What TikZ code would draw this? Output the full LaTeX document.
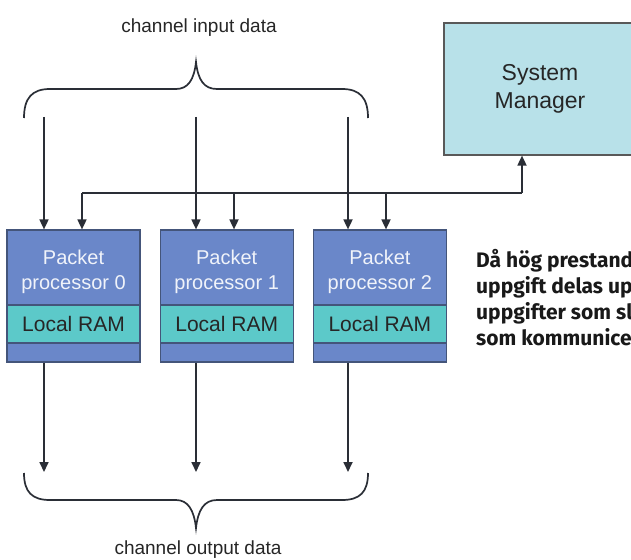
\documentclass[tikz,border=0pt]{standalone}
\usepackage{fontspec}
\setmainfont{Liberation Sans}
\newfontfamily\notefont{Fira Sans}
\usetikzlibrary{arrows.meta}
\usetikzlibrary{positioning}

\definecolor{procblue}{HTML}{6A87C9}
\definecolor{ramteal}{HTML}{5CC9C9}
\definecolor{mgrcyan}{HTML}{B8E1E9}
\definecolor{linegray}{HTML}{2A2E36}
\definecolor{edgegray}{HTML}{44557A}

\tikzset{
  procbox/.style={draw=edgegray, line width=1.2pt, fill=procblue,
    minimum width=133pt, minimum height=132pt, inner sep=0pt},
  rambox/.style={draw=edgegray, line width=1.2pt, fill=ramteal,
    minimum width=133pt, minimum height=38pt, inner sep=0pt,
    font=\fontsize{21}{24}\selectfont, text=black!85},
  proclabel/.style={align=center, text=white!90!procblue,
    font=\fontsize{20}{25}\selectfont},
  mgrbox/.style={draw=gray!70!black, line width=1.2pt, fill=mgrcyan,
    minimum width=192pt, minimum height=132pt, align=center,
    font=\fontsize{23}{28}\selectfont, text=black!85},
  flow/.style={draw=linegray, line width=1.7pt, -{Triangle[length=10pt,width=9pt]}},
  wire/.style={draw=linegray, line width=1.7pt},
  bracket/.style={draw=linegray, line width=1.7pt},
  chanlabel/.style={font=\fontsize{19}{22}\selectfont, text=black!85},
}

\begin{document}
\begin{tikzpicture}[x=1pt, y=-1pt]
\useasboundingbox (0,0) rectangle (631,559);
\clip (0,0) rectangle (631,559);
\fill[white] (0,0) rectangle (631,559);

% System manager (cut by the right edge)
\node[mgrbox] (mgr) at (540,89) {System\\Manager};

% Packet processors
\node[procbox] (proc0) at (73.5,296) {};
\node[procbox, right=19pt of proc0] (proc1) {};
\node[procbox, right=19pt of proc1] (proc2) {};

% Local RAM bands
\node[rambox, anchor=north] (ram0) at ([yshift=-75pt]proc0.north) {Local RAM};
\node[rambox, anchor=north] (ram1) at ([yshift=-75pt]proc1.north) {Local RAM};
\node[rambox, anchor=north] (ram2) at ([yshift=-75pt]proc2.north) {Local RAM};

% Processor names
\node[proclabel] (name0) at ([yshift=-42pt]proc0.north) {Packet\\processor 0};
\node[proclabel] (name1) at ([yshift=-42pt]proc1.north) {Packet\\processor 1};
\node[proclabel] (name2) at ([yshift=-42pt]proc2.north) {Packet\\processor 2};

% Input brace
\node[chanlabel] (inlabel) at (199,28) {channel input data};
\draw[bracket] (24,118) .. controls (24,98) and (32,89) .. (50,89) -- (176,89)
  .. controls (188,89) and (194,80) .. (196,62)
  .. controls (198,80) and (204,89) .. (217,89) -- (342,89)
  .. controls (360,89) and (368,98) .. (368,118);

% Input arrows
\coordinate (in0) at (44,117);
\coordinate (in1) at (196,117);
\coordinate (in2) at (348,117);
\draw[flow] (in0) -- (in0 |- proc0.north);
\draw[flow] (in1) -- (in1 |- proc1.north);
\draw[flow] (in2) -- (in2 |- proc2.north);

% Bus to the system manager
\coordinate (bus0) at (82,193);
\coordinate (bus1) at (234,193);
\coordinate (bus2) at (386,193);
\coordinate (busend) at (522,193);
\draw[wire] (bus0) -- (busend);
\draw[flow] (busend) -- (busend |- mgr.south);
\draw[flow] (bus0) -- (bus0 |- proc0.north);
\draw[flow] (bus1) -- (bus1 |- proc1.north);
\draw[flow] (bus2) -- (bus2 |- proc2.north);

% Output arrows
\coordinate (out0) at (44,472);
\coordinate (out1) at (196,472);
\coordinate (out2) at (348,472);
\draw[flow] (proc0.south -| out0) -- (out0);
\draw[flow] (proc1.south -| out1) -- (out1);
\draw[flow] (proc2.south -| out2) -- (out2);

% Output brace
\draw[bracket] (24,473) .. controls (24,492) and (32,500) .. (50,500) -- (176,500)
  .. controls (188,500) and (194,510) .. (196,528)
  .. controls (198,510) and (204,500) .. (217,500) -- (342,500)
  .. controls (360,500) and (368,492) .. (368,473);
\node[chanlabel] (outlabel) at (198,550) {channel output data};

% Side text (cut by the right edge, as in the source)
\node[anchor=north west, align=left, inner sep=0pt, text=black!90,
  font=\notefont\bfseries\fontsize{21}{26}\selectfont] (note) at (476,249)
  {Då hög prestand\\uppgift delas up\\uppgifter som sl\\som kommunice};
\end{tikzpicture}
\end{document}
